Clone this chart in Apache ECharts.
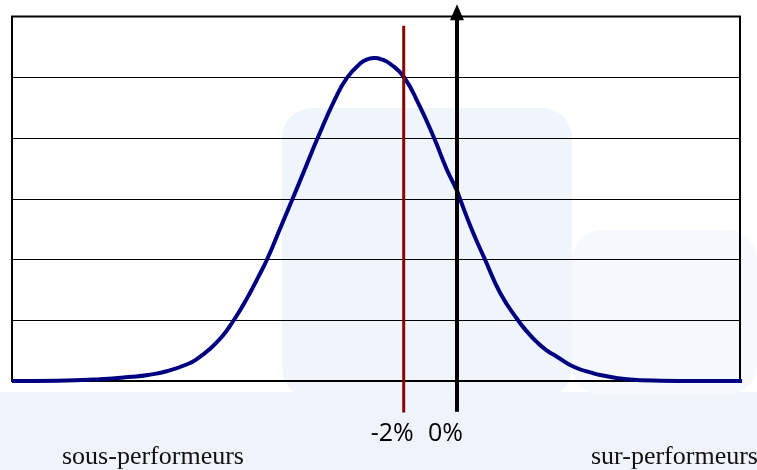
<!DOCTYPE html>
<html>
<head>
<meta charset="utf-8">
<script src="https://cdn.jsdelivr.net/npm/echarts@6/dist/echarts.min.js"></script>
<style>html,body{margin:0;padding:0;background:#fff;}#c{width:757px;height:470px;}</style>
</head>
<body>
<div id="c"></div>
<script>
// Performance (% relative)
const perfX = [-16.7, -15.0, -13.4, -12.2, -11.6, -10.9, -10.1, -9.7, -9.3, -8.8, -8.41, -8.0, -7.77, -7.45, -7.13, -6.65, -6.17, -5.7, -5.23, -4.6, -4.13, -3.6, -3.35, -3.08, -2.8, -2.5, -2.0, -1.45, -0.86, -0.4, 0, 0.11, 0.55, 1.05, 1.62, 2.29, 2.65, 3.0, 3.35, 3.75, 4.4, 5.1, 5.37, 6.38, 7.62, 9.1, 10.73];
const density = [0.0, 0.005, 0.03, 0.07, 0.10, 0.16, 0.28, 0.38, 0.52, 0.74, 0.98, 1.27, 1.45, 1.72, 2.0, 2.5, 3.0, 3.5, 4.0, 4.62, 4.99, 5.24, 5.30, 5.32, 5.29, 5.22, 5.01, 4.57, 4.0, 3.5, 3.13, 3.0, 2.5, 2.0, 1.45, 1.0, 0.80, 0.64, 0.51, 0.40, 0.23, 0.13, 0.10, 0.03, 0.005, 0.0, 0.0];
const thresholdX = -2;      // red line
const zeroX = 0;            // vertical axis
const tickLabels = { '-2': '-2%', '0': '0%' };
const leftText = 'sous-performeurs';
const rightText = 'sur-performeurs';

const chart = echarts.init(document.getElementById('c'), null, { renderer: 'canvas' });
const curve = perfX.map((x, i) => [x, density[i]]);

chart.setOption({
  backgroundColor: '#ffffff',
  animation: false,
  graphic: [
    { type: 'rect', z: -10, shape: { x: 0, y: 392, width: 757, height: 78 }, style: { fill: '#eff3fa' } },
    { type: 'rect', z: -10, shape: { x: 282, y: 108, width: 290, height: 290, r: 30 }, style: { fill: '#f0f4fb' } },
    { type: 'rect', z: -10, shape: { x: 572, y: 230, width: 185, height: 165, r: 30 }, style: { fill: '#f5f8fc' } }
  ],
  title: [
    { text: leftText, left: 57, top: 439, textStyle: { fontFamily: 'Liberation Serif', fontSize: 26, fontWeight: 'normal', color: '#111' } },
    { text: rightText, left: 586, top: 439, textStyle: { fontFamily: 'Liberation Serif', fontSize: 26, fontWeight: 'normal', color: '#111' } }
  ],
  grid: { left: 12, right: 17, top: 16.6, bottom: 89, show: true, borderColor: '#000', borderWidth: 2, backgroundColor: 'transparent' },
  xAxis: {
    type: 'value', min: -16.7, max: 10.62,
    axisLine: { show: true, onZero: false, lineStyle: { color: '#000', width: 2 } },
    axisTick: { show: false },
    splitLine: { show: false },
    axisLabel: {
      show: true, customValues: [thresholdX, zeroX], margin: 40,
      formatter: v => tickLabels[String(v)],
      fontFamily: 'Open Sans', fontSize: 25, color: '#000', align: 'center', padding: [0, 23, 0, 0]
    }
  },
  yAxis: {
    type: 'value', min: 0, max: 6, interval: 1,
    axisLine: { show: false }, axisTick: { show: false }, axisLabel: { show: false },
    splitLine: { show: true, lineStyle: { color: '#000', width: 1 } }
  },
  series: [
    { type: 'line', data: curve, smooth: 0.5, showSymbol: false, symbol: 'none', clip: false,
      lineStyle: { color: '#000080', width: 4 }, z: 3 },
    { type: 'line', data: [[thresholdX, -0.52], [thresholdX, 5.85]], symbol: 'none', clip: false,
      lineStyle: { color: '#8b0000', width: 3 }, z: 4 },
    { type: 'line', clip: false, z: 5,
      data: [ { value: [zeroX, -0.505], symbol: 'none' }, { value: [zeroX, 5.95], symbol: 'none' },
              { value: [zeroX, 6.07], symbol: 'triangle', symbolSize: [14, 16] } ],
      showSymbol: true, itemStyle: { color: '#000' },
      lineStyle: { color: '#000', width: 4 } }
  ]
});
</script>
</body>
</html>
